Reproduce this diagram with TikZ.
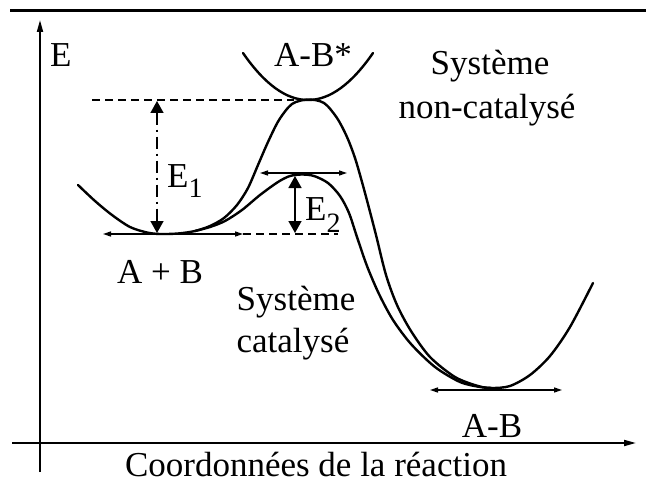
\documentclass[tikz,border=0pt]{standalone}
\usepackage{fontspec}
\setmainfont{Liberation Serif}
\usetikzlibrary{arrows.meta}

\begin{document}
\begin{tikzpicture}[
    x=1pt, y=-1pt,
    curve/.style={line width=2.4pt, line cap=round, line join=round},
    axis/.style={line width=1.8pt, -{Triangle[length=12pt,width=6pt]}},
    tangent/.style={line width=1.4pt, {Triangle[length=8pt,width=5pt]}-{Triangle[length=8pt,width=5pt]}},
    guide/.style={line width=1.3pt, dash pattern=on 8pt off 5pt},
    gap/.style={line width=1.6pt, {Triangle[length=12pt,width=13pt]}-{Triangle[length=12pt,width=13pt]}},
    lbl/.style={inner sep=0pt, anchor=base, font=\fontsize{35}{42}\selectfont}
]
\useasboundingbox (0,0) rectangle (646,487);

% frame line and axes
\coordinate (frameL) at (10,11);
\coordinate (frameR) at (646,11);
\coordinate (origin) at (40,472);
\coordinate (ytip) at (40,20);
\coordinate (xstart) at (12,443);
\coordinate (xtip) at (636,443);
\draw[line width=3pt] (frameL) -- (frameR);
\draw[axis] (origin) -- (ytip);
\draw[axis] (xstart) -- (xtip);

% levels
\coordinate (wellL) at (160,234);
\coordinate (peakN) at (308,100);
\coordinate (peakC) at (302,173);
\coordinate (wellR) at (492,390);

% energy curves
\draw[curve] plot[smooth] coordinates {
    (78,185) (95,201) (112,215) (130,227) (147,232.5) (160,234) (178,233.5)
    (195,231) (210,226) (224,218) (237,205) (248,188) (258,165) (268,142)
    (279,120) (292,104) (308,99.5) (324,103) (337,118) (347,137) (355,158)
    (362,182) (369,208) (376,235) (386,275) (397,305) (411,331) (430,357)
    (455,377) (478,386) (492,388) (510,386) (530,375) (550,356) (570,327)
    (593,283)};
\draw[curve] plot[smooth] coordinates {
    (195,231) (210,227) (225,221) (242,210) (260,195) (278,182) (290,176)
    (302,174.5) (314,176) (328,183) (340,196) (349,213) (357,237) (367,266)
    (379,294) (393,320) (411,344) (435,367) (460,382) (480,387) (492,388)};
\draw[curve] (243,53) .. controls (286.3,115.7) and (329.7,115.7) .. (373,53);

% tangents and guides
\draw[tangent] (103,234) -- (243,234);
\draw[tangent] (260,173) -- (347,173);
\draw[tangent] (430,390) -- (562,390);
\draw[guide] (92,100) -- (294,100);
\draw[guide] (243,234) -- (338,234);

% activation energies
\coordinate (e1top) at (157,101);
\coordinate (e1bot) at (157,233);
\coordinate (e2top) at (295,176);
\coordinate (e2bot) at (295,233);
\draw[gap, dash pattern=on 12pt off 5pt on 2pt off 5pt] (e1top) -- (e1bot);
\draw[gap] (e2top) -- (e2bot);

% labels
\node[lbl, anchor=base west] (lblE) at (50,67) {E};
\node[lbl] (lblTS) at (313,67) {A-B*};
\node[lbl] (lblNa) at (490,75) {Système};
\node[lbl] (lblNb) at (487,118) {non-catalysé};
\node[lbl, anchor=base west] (lblE1) at (167,187) {E\raisebox{-10pt}{\fontsize{28}{30}\selectfont 1}};
\node[lbl, anchor=base west] (lblE2) at (305,220) {E\raisebox{-12pt}{\fontsize{28}{30}\selectfont 2}};
\node[lbl] (lblAB) at (160,283) {A + B};
\node[lbl] (lblCa) at (296,310) {Système};
\node[lbl] (lblCb) at (293,352) {catalysé};
\node[lbl] (lblP) at (492,437) {A-B};
\node[lbl] (lblX) at (316,476) {Coordonnées de la réaction};

\end{tikzpicture}
\end{document}
